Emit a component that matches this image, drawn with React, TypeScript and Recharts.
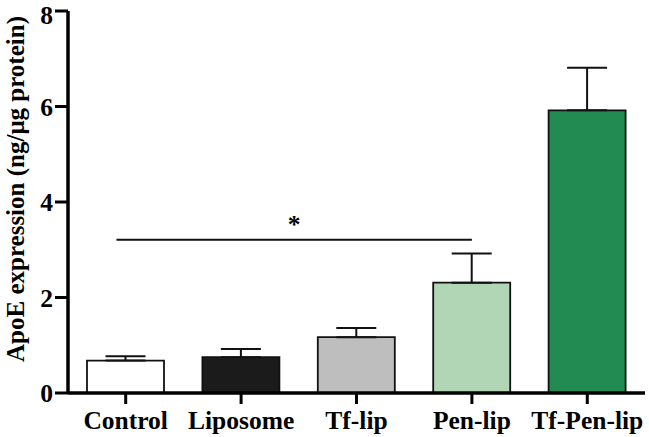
import React from 'react';
import { BarChart, Bar, XAxis, YAxis, Cell, ErrorBar, ReferenceLine } from 'recharts';

const categories = ['Control', 'Liposome', 'Tf-lip', 'Pen-lip', 'Tf-Pen-lip'];
const positions = [0.5, 1.5, 2.5, 3.5, 4.5];
const means = [0.68, 0.75, 1.17, 2.31, 5.92];
const sems = [0.09, 0.17, 0.19, 0.61, 0.89];
const barColors = ['#ffffff', '#1b1b1b', '#bebebe', '#b1d6b5', '#218b51'];
const yTicks = [0, 2, 4, 6, 8];
// significance bracket: from / to (in category band units), at value
const sigFrom = 0.42;
const sigTo = 3.5;
const sigLevel = 3.21;
const sigMark = '*';

const data = categories.map((name, i) => ({ name, pos: positions[i], value: means[i], err: [0, sems[i]] }));

const FONT = '"Liberation Serif", "Times New Roman", serif';
const textStyle = { fontFamily: FONT, fontWeight: 'bold' as const, fontSize: 25.5, fill: '#000' };

const YLabel = (props: any) => {
  const vb = props.viewBox || { x: 0, y: 0, width: 68, height: 381 };
  const x = vb.x + 24;
  const y = vb.y + vb.height / 2 - 13;
  return (
    <text x={x} y={y} transform={`rotate(-90, ${x}, ${y})`} textAnchor="middle" {...textStyle} fontSize={25}>
      ApoE expression (ng/μg protein)
    </text>
  );
};

export default function App() {
  return (
    <div style={{ position: 'absolute', left: 0, top: 0, background: '#fff' }}>
      <BarChart
        width={649}
        height={437}
        data={data}
        margin={{ top: 11, right: 4, bottom: 0, left: 0 }}
        barSize={77}
      >
        <XAxis
          dataKey="name"
          height={44}
          axisLine={{ stroke: '#000', strokeWidth: 3.5 }}
          tickLine={{ stroke: '#000', strokeWidth: 3 }}
          tickSize={11}
          tickMargin={7}
          tick={textStyle}
          interval={0}
        />
        <XAxis
          xAxisId="num"
          dataKey="pos"
          type="number"
          domain={[0, 5]}
          hide
          allowDataOverflow
          padding={{ left: 0, right: 0 }}
        />
        <YAxis
          width={68}
          domain={[0, 8]}
          ticks={yTicks}
          axisLine={{ stroke: '#000', strokeWidth: 3.5 }}
          tickLine={{ stroke: '#000', strokeWidth: 3 }}
          tickSize={13}
          tickMargin={2}
          tick={textStyle}
          label={YLabel}
        />
        <Bar dataKey="value" stroke="#111" strokeWidth={1.8} isAnimationActive={false}>
          {data.map((d, i) => (
            <Cell key={d.name} fill={barColors[i]} />
          ))}
          <ErrorBar dataKey="err" width={20} stroke="#111" strokeWidth={2} direction="y" />
        </Bar>
        <ReferenceLine
          xAxisId="num"
          segment={[{ x: sigFrom, y: sigLevel }, { x: sigTo, y: sigLevel }]}
          stroke="#111"
          strokeWidth={2}
          ifOverflow="visible"
          label={{ value: sigMark, position: 'top', offset: 7, ...textStyle }}
        />
      </BarChart>
    </div>
  );
}
